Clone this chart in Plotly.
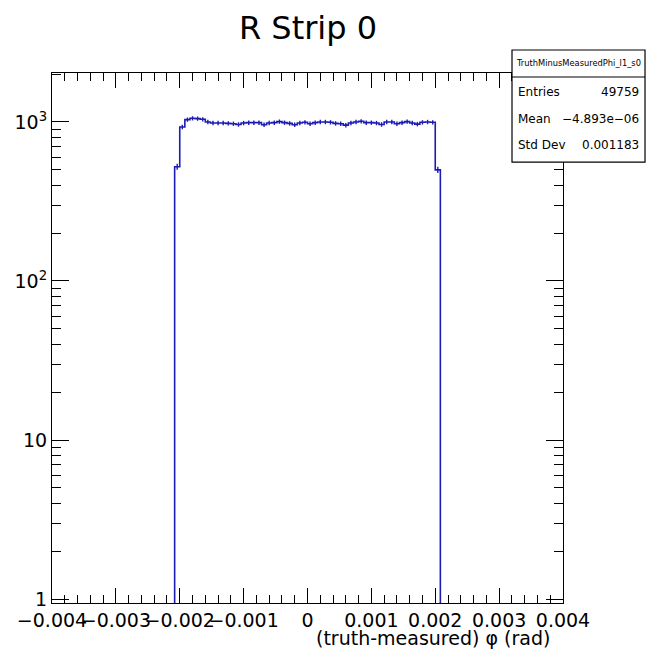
import numpy as np
import plotly.graph_objects as go

# histogram TruthMinusMeasuredPhi_l1_s0 (100 bins over -0.004..0.004, only filled ones kept)
bin_width = 0.00008
first_edge = -0.00208
counts = [523, 930, 1035, 1055, 1050, 1040, 1000, 985, 985, 985,
          980, 975, 965, 985, 990, 990, 990, 960, 985, 990,
          1005, 990, 980, 960, 985, 995, 975, 990, 1000, 1000,
          995, 980, 975, 955, 985, 1000, 1010, 990, 990, 985,
          965, 1000, 1000, 975, 990, 1005, 985, 970, 995, 1000,
          995, 500]

x_ticks = [-0.004, -0.003, -0.002, -0.001, 0, 0.001, 0.002, 0.003, 0.004]
x_labels = ["\u22120.004", "\u22120.003", "\u22120.002", "\u22120.001", "0",
            "0.001", "0.002", "0.003", "0.004"]
y_ticks = [1, 10, 100, 1000]
y_labels = ["1", "10", "10<sup>2</sup>", "10<sup>3</sup>"]

stat_names = ["Entries", "Mean", "Std Dev"]
stat_values = ["49759", "\u22124.893e\u221206", "0.001183"]
hist_name = "TruthMinusMeasuredPhi_l1_s0"

edges = np.round(first_edge + bin_width * np.arange(len(counts) + 1), 6)
centers = (edges[:-1] + edges[1:]) / 2
floor = 0.5

# closed step outline, dropping to below the axis at both ends
step_x = [edges[0]] + list(edges[:-1]) + [edges[-1], edges[-1]]
step_y = [floor] + counts + [counts[-1], floor]

blue = "#1c1cb4"
font = "DejaVu Sans, Liberation Sans, Arial, sans-serif"

fig = go.Figure()
fig.add_trace(go.Scatter(x=step_x, y=step_y, mode="lines", line_shape="hv",
                         line=dict(color=blue, width=1.6), hoverinfo="skip"))
fig.add_trace(go.Scatter(x=centers, y=counts, mode="markers",
                         marker=dict(size=1, color=blue),
                         error_y=dict(type="data", array=list(np.sqrt(counts)),
                                      color=blue, thickness=1.4, width=0)))

axis_common = dict(showline=True, linecolor="black", linewidth=1.2, mirror="ticks",
                   ticks="inside", tickcolor="black", showgrid=False, zeroline=False,
                   automargin=False,
                   tickfont=dict(family=font, size=19, color="black"))

fig.update_xaxes(range=[-0.004, 0.004], tickvals=x_ticks, ticktext=x_labels,
                 ticklen=15, tickwidth=1.2, tickangle=0,
                 minor=dict(ticks="inside", dtick=0.0002, ticklen=8, tickcolor="black",
                            tickwidth=1.2, showgrid=False),
                 **axis_common)
fig.update_yaxes(type="log", range=[-0.025, 3.308], tickvals=y_ticks, ticktext=y_labels,
                 ticklen=17, tickwidth=1.2,
                 minor=dict(ticks="inside", dtick="D1", ticklen=9, tickcolor="black",
                            tickwidth=1.2, showgrid=False),
                 **axis_common)

# stats box
box_x0, box_x1 = 0.9002, 1.1605
fig.add_shape(type="rect", xref="paper", yref="paper", x0=box_x0, x1=box_x1, y0=0.832, y1=1.0434,
              line=dict(color="black", width=1.2), fillcolor="white", layer="above")
fig.add_shape(type="line", xref="paper", yref="paper", x0=box_x0, x1=box_x1, y0=0.9925, y1=0.9925,
              line=dict(color="black", width=1.2), layer="above")
fig.add_annotation(text=hist_name, xref="paper", yref="paper", x=(box_x0 + box_x1) / 2, y=1.018,
                   xanchor="center", yanchor="middle", showarrow=False,
                   font=dict(family=font, size=8.3, color="black"))
for i, (nm, val) in enumerate(zip(stat_names, stat_values)):
    yy = 0.9642 - i * 0.0501
    fig.add_annotation(text=nm, xref="paper", yref="paper", x=0.908, y=yy,
                       xanchor="left", yanchor="middle", showarrow=False,
                       font=dict(family=font, size=12, color="black"))
    fig.add_annotation(text=val, xref="paper", yref="paper", x=1.1526, y=yy,
                       xanchor="right", yanchor="middle", showarrow=False,
                       font=dict(family=font, size=12, color="black"))

fig.add_annotation(text="(truth-measured) \u03c6 (rad)", xref="paper", yref="paper",
                   x=0.978, y=-0.066, xanchor="right", yanchor="middle", showarrow=False,
                   font=dict(family=font, size=19, color="black"))

# page body has an 8px margin, so the figure is sized to fit inside the window
fig.update_layout(width=638, height=641, showlegend=False,
                  plot_bgcolor="white", paper_bgcolor="white",
                  margin=dict(l=44, r=83, t=65, b=46),
                  title=dict(text="R Strip 0", x=0.4702, xanchor="center", y=0.9688,
                             yanchor="middle", font=dict(family=font, size=32, color="black")))

fig.write_html("out.html")
